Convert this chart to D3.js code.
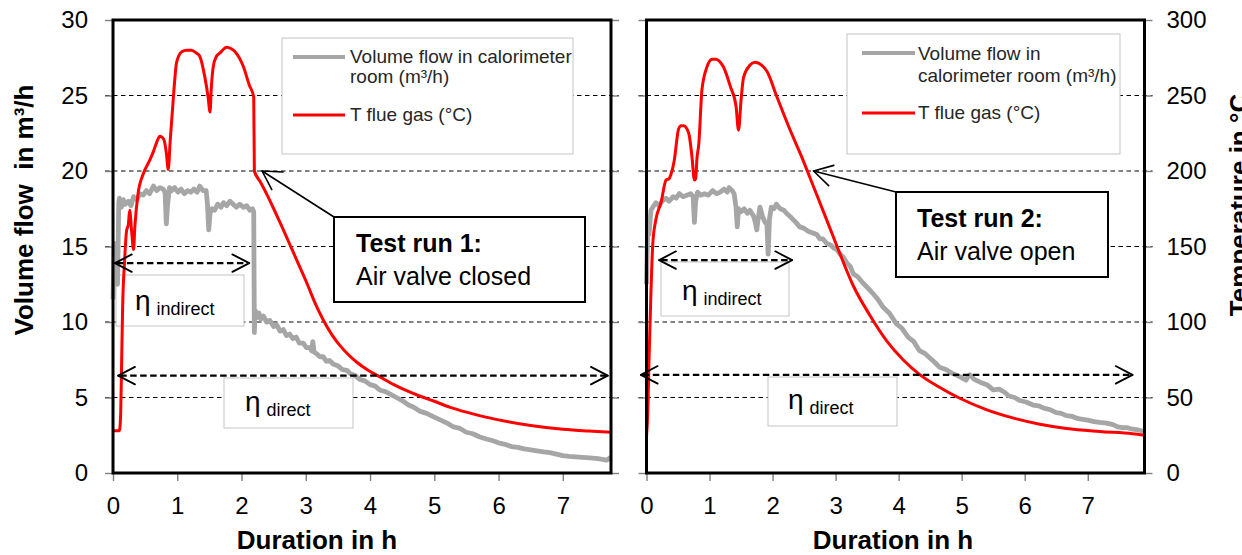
<!DOCTYPE html>
<html>
<head>
<meta charset="utf-8">
<script src="https://cdn.jsdelivr.net/npm/d3@7"></script>
<style>
  html, body { margin: 0; padding: 0; background: #fff; }
  svg { display: block; }
</style>
</head>
<body>
<svg id="chart" width="1242" height="555"></svg>
<script>
// ---- Test run 1 (air valve closed) ----
const run1FlowHours = [0, 0.02, 0.03, 0.05, 0.07, 0.09, 0.1, 0.13, 0.16, 0.19, 0.24, 0.28, 0.32, 0.37, 0.42, 0.47, 0.52, 0.57, 0.63, 0.68, 0.73, 0.78, 0.81, 0.83, 0.85, 0.88, 0.91, 0.96, 1.01, 1.06, 1.11, 1.16, 1.21, 1.26, 1.31, 1.35, 1.4, 1.45, 1.47, 1.49, 1.51, 1.54, 1.58, 1.63, 1.68, 1.72, 1.77, 1.82, 1.87, 1.92, 1.97, 2.03, 2.08, 2.13, 2.17, 2.19,
  2.2, 2.21, 2.24, 2.27, 2.3, 2.34, 2.39, 2.44, 2.5, 2.55, 2.6, 2.65, 2.7, 2.75, 2.8, 2.85, 2.9, 2.96, 3.01, 3.06, 3.09, 3.11, 3.13, 3.17, 3.22, 3.27, 3.32, 3.37, 3.43, 3.5, 3.57, 3.64, 3.7, 3.77, 3.84, 3.92, 4.0, 4.08, 4.15, 4.23, 4.3, 4.41, 4.5, 4.6, 4.68, 4.77, 4.88, 5.0, 5.1, 5.2, 5.3, 5.4, 5.5, 5.6, 5.7, 5.81, 5.9, 6.0, 6.1, 6.2, 6.3, 6.4, 6.55, 6.7, 6.8, 6.9, 7.0, 7.1, 7.25, 7.42, 7.55, 7.68, 7.75];
const run1Flow = [11.5, 15.2, 13.0, 14.5, 12.5, 17.9, 18.2, 17.6, 18.1, 17.8, 18.0, 17.7, 18.3, 18.1, 18.5, 18.4, 18.7, 18.5, 19.0, 18.7, 18.9, 18.8, 18.6, 16.5, 17.8, 18.9, 18.7, 18.9, 18.6, 18.8, 18.5, 18.7, 18.6, 18.8, 18.6, 19.0, 18.7, 18.7, 17.8, 16.1, 17.2, 17.5, 17.4, 17.8, 17.6, 17.9, 17.7, 18.0, 17.8, 17.6, 17.8, 17.6, 17.7, 17.4, 17.5, 17.3,
  9.3, 10.8, 10.3, 10.6, 10.2, 10.4, 10.0, 10.1, 9.7, 9.8, 9.4, 9.5, 9.1, 9.2, 8.9, 9.0, 8.6, 8.6, 8.3, 8.3, 8.1, 8.7, 8.0, 7.9, 7.7, 7.7, 7.4, 7.45, 7.2, 7.1, 6.85, 6.8, 6.55, 6.45, 6.2, 6.1, 5.85, 5.75, 5.5, 5.4, 5.25, 5.0, 4.8, 4.5, 4.35, 4.1, 3.95, 3.7, 3.5, 3.3, 3.05, 2.95, 2.7, 2.6, 2.4, 2.25, 2.15, 2.0, 1.9, 1.75, 1.7, 1.6, 1.5, 1.4, 1.35, 1.25, 1.15, 1.1, 1.05, 1.0, 0.95, 0.85, 1.05];
const run1TempHours = [0, 0.1, 0.12, 0.135, 0.15, 0.18, 0.21, 0.24, 0.26, 0.29, 0.32, 0.34, 0.39, 0.47, 0.57, 0.63, 0.68, 0.73, 0.79, 0.83, 0.86, 0.89, 0.94, 0.99, 1.07, 1.15, 1.22, 1.3, 1.35, 1.43, 1.48, 1.51, 1.53, 1.56, 1.61, 1.66, 1.77, 1.84, 1.9, 2.03, 2.12, 2.19,
  2.2, 2.29, 2.4, 2.49, 2.62, 2.75, 2.88, 3.01, 3.14, 3.27, 3.4, 3.53, 3.66, 3.79, 3.97, 4.16, 4.37, 4.57, 4.77, 5.0, 5.25, 5.5, 5.75, 6.0, 6.5, 7.0, 7.4, 7.75];
const run1Temp = [28, 28, 40, 75, 110, 140, 160, 165, 174, 160, 148, 163, 185, 198, 207, 213, 219, 223, 221, 212, 201, 220, 249, 272, 279, 280, 280, 278, 276, 262, 249, 239, 255, 269, 276, 278, 282, 281, 279, 269, 257, 249,
  200, 193, 184, 176, 164, 151.5, 139, 126.5, 113, 101.5, 92, 84.5, 78.5, 73.5, 68, 63.5, 58.5, 54.5, 51, 47.5, 43.5, 40.3, 37.5, 35.2, 31.5, 29, 27.8, 27];

// ---- Test run 2 (air valve open) ----
const run2FlowHours = [0, 0.01, 0.02, 0.04, 0.07, 0.1, 0.15, 0.2, 0.25, 0.31, 0.36, 0.42, 0.47, 0.52, 0.58, 0.64, 0.7, 0.74, 0.76, 0.78, 0.81, 0.86, 0.92, 0.98, 1.05, 1.11, 1.17, 1.23, 1.28, 1.31, 1.36, 1.39, 1.42, 1.44, 1.46, 1.5, 1.55, 1.6, 1.64, 1.7, 1.72, 1.75, 1.77, 1.8, 1.84, 1.88, 1.91, 1.93, 1.95, 1.98, 2.02, 2.06, 2.12, 2.18, 2.22, 2.3, 2.37, 2.43, 2.5, 2.57, 2.64, 2.7, 2.75, 2.8, 2.86, 2.92, 2.97, 3.02, 3.07, 3.12, 3.18, 3.23, 3.28, 3.35, 3.43, 3.5, 3.59, 3.67, 3.75, 3.85, 3.96, 4.05, 4.15, 4.24, 4.33, 4.42, 4.5, 4.58, 4.65, 4.75, 4.85, 4.96, 5.07, 5.1, 5.13, 5.2, 5.3, 5.4, 5.5, 5.6, 5.68, 5.75, 5.84, 5.92, 6.02, 6.13, 6.22, 6.3, 6.4, 6.5, 6.58, 6.66, 6.75, 6.85, 6.92, 7.0, 7.1, 7.19, 7.3, 7.4, 7.48, 7.55, 7.63, 7.71, 7.8, 7.9];
const run2Flow = [12.5, 14.5, 16.3, 15.8, 17.4, 17.6, 17.9, 17.7, 18.0, 18.2, 18.0, 18.3, 18.2, 18.5, 18.3, 18.4, 18.5, 18.3, 16.6, 18.0, 18.6, 18.4, 18.5, 18.4, 18.7, 18.5, 18.6, 18.8, 18.6, 18.9, 18.7, 18.5, 17.6, 16.3, 17.5, 17.3, 17.5, 17.2, 17.4, 17.0, 16.7, 16.1, 16.8, 17.6, 17.0, 16.6, 16.5, 14.5, 16.8, 17.6, 17.5, 17.8, 17.5, 17.4, 17.2, 16.9, 16.6, 16.3, 16.2, 16.0, 15.9, 15.8, 15.5, 15.5, 15.2, 15.1, 14.9, 14.8, 14.5, 14.3, 13.9, 13.7, 13.2, 13.0, 12.6, 12.3, 11.9, 11.5, 11.0, 10.6, 9.9, 9.6, 9.0, 8.7, 8.1, 7.9, 7.6, 7.3, 7.0, 6.85, 6.6, 6.4, 6.15, 6.4, 6.5, 6.2, 6.0, 5.85, 5.5, 5.55, 5.35, 5.1, 5.0, 4.8, 4.7, 4.5, 4.45, 4.3, 4.2, 4.0, 3.95, 3.8, 3.75, 3.6, 3.55, 3.5, 3.4, 3.35, 3.3, 3.2, 3.05, 3.0, 3.0, 2.9, 2.85, 2.75];
const run2TempHours = [0, 0.02, 0.04, 0.07, 0.1, 0.15, 0.23, 0.31, 0.36, 0.39, 0.44, 0.51, 0.55, 0.59, 0.67, 0.72, 0.76, 0.78, 0.8, 0.83, 0.88, 0.96, 1.04, 1.1, 1.15, 1.22, 1.33, 1.42, 1.46, 1.5, 1.54, 1.64, 1.72, 1.83, 1.91, 2.07, 2.28, 2.46, 2.65, 2.86, 3.07, 3.28, 3.55, 3.81, 4.07, 4.34, 4.66, 4.97, 5.39, 5.81, 6.24, 6.66, 7.19, 7.71, 7.9];
const run2Temp = [24, 40, 75, 119, 152, 168, 179, 194, 195, 198, 207, 228, 230, 230, 225, 210, 194, 195, 208, 218, 254, 269, 274, 274, 273, 269, 256, 243, 227, 247, 262, 270, 272, 270, 266, 249, 227, 209.5, 189.6, 167.5, 145, 124, 104, 87.5, 75, 65, 56.5, 49.5, 42, 36.5, 32.3, 29.5, 27.5, 26, 25];

// ---- axis ticks and labels ----
const flowTicks = [0, 5, 10, 15, 20, 25, 30];
const flowGrid = [5, 10, 15, 20, 25];
const tempTicks = [0, 50, 100, 150, 200, 250, 300];
const hourTicks = [0, 1, 2, 3, 4, 5, 6, 7];
const legendFlowLines = [["Volume flow in calorimeter", "room (m³/h)"], ["Volume flow in", "calorimeter room (m³/h)"]];
const legendTempLabel = "T flue gas (°C)";
const runTitles = ["Test run 1:", "Test run 2:"];
const runValves = ["Air valve closed", "Air valve open"];
const calloutTemp = 200;            // °C point on the flue gas curve the callouts point at
const calloutHours = [2.32, 2.65];
const indirectSpan = [[0.03, 2.12], [0.2, 2.31]];
const directSpan = [[0.08, 7.7], [-0.09, 7.71]];
const indirectLevel = [13.9, 14.1];  // m³/h scale height of the η indirect arrow
const directLevel = [6.45, 6.5];

const FONT = "'Liberation Sans', Arial, Helvetica, sans-serif";
const svg = d3.select("#chart");
svg.append("rect").attr("width", 1242).attr("height", 555).attr("fill", "#fff");

const yFlow = d3.scaleLinear().domain([0, 30]).range([473, 20]);
const yTemp = d3.scaleLinear().domain([0, 300]).range([473, 20]);

const panels = [
  {
    x: d3.scaleLinear().domain([0, 7.75]).range([113, 611]),
    flowH: run1FlowHours, flow: run1Flow, tempH: run1TempHours, temp: run1Temp,
    legend: { x: 282, y: 38, w: 291, h: 116, lx0: 293, lx1: 345, tx: 350, gy: 57, ry: 115, b1: 63, b2: 83, b3: 121 },
    box: { x: 334, y: 217, w: 251, h: 85, tx: 356, b1: 252, b2: 285 },
    etaInd: { x: 116, y: 275, w: 128, h: 51, tx: 135, b: 310 },
    etaDir: { x: 224, y: 378, w: 129, h: 50, tx: 245, b: 411 },
    leftLabels: true, rightLabels: false
  },
  {
    x: d3.scaleLinear().domain([0, 7.9]).range([646.5, 1144.5]),
    flowH: run2FlowHours, flow: run2Flow, tempH: run2TempHours, temp: run2Temp,
    legend: { x: 847, y: 34, w: 273, h: 120, lx0: 862, lx1: 915, tx: 918, gy: 53, ry: 113, b1: 60, b2: 82, b3: 119 },
    box: { x: 896, y: 192, w: 212, h: 85, tx: 917, b1: 227, b2: 260 },
    etaInd: { x: 661, y: 262, w: 128, h: 54, tx: 682, b: 300 },
    etaDir: { x: 768, y: 377, w: 129, h: 49, tx: 788, b: 409 },
    leftLabels: false, rightLabels: true
  }
];

function arrowHead(g, x, y, ang, len, spread, width) {
  [ang - spread, ang + spread].forEach(a => {
    g.append("line")
      .attr("x1", x).attr("y1", y)
      .attr("x2", x + len * Math.cos(a)).attr("y2", y + len * Math.sin(a))
      .attr("stroke", "#000").attr("stroke-width", width).attr("stroke-linecap", "round");
  });
}

function etaLabel(g, b, sub) {
  g.append("rect").attr("x", b.x).attr("y", b.y).attr("width", b.w).attr("height", b.h)
    .attr("fill", "#fff").attr("stroke", "#c4c4c4").attr("stroke-width", 1);
  const t = g.append("text").attr("x", b.tx).attr("y", b.b)
    .attr("font-family", FONT).attr("font-size", 28).attr("fill", "#000").text("η");
  t.append("tspan").attr("dx", 6).attr("dy", 5).attr("font-size", 18).text(sub);
}

panels.forEach((p, i) => {
  const g = svg.append("g");
  const [x0, x1] = p.x.range();

  // dashed horizontal grid
  g.selectAll("line.grid").data(flowGrid).join("line")
    .attr("class", "grid")
    .attr("x1", x0 - 8).attr("x2", x1 + 8)
    .attr("y1", d => yFlow(d)).attr("y2", d => yFlow(d))
    .attr("stroke", "#000").attr("stroke-width", 1).attr("stroke-dasharray", "4.5,3.5");

  // left axis (volume flow)
  g.append("g").attr("transform", `translate(${x0},0)`)
    .call(d3.axisLeft(yFlow).tickValues(flowTicks).tickSize(8).tickPadding(17)
      .tickFormat(p.leftLabels ? d3.format("d") : () => ""))
    .call(a => a.select(".domain").remove());

  // right axis (temperature)
  g.append("g").attr("transform", `translate(${x1},0)`)
    .call(d3.axisRight(yTemp).tickValues(tempTicks).tickSize(8).tickPadding(14)
      .tickFormat(p.rightLabels ? d3.format("d") : () => ""))
    .call(a => a.select(".domain").remove());

  // bottom axis (hours)
  g.append("g").attr("transform", "translate(0,473)")
    .call(d3.axisBottom(p.x).tickValues(hourTicks).tickSize(8).tickPadding(16).tickFormat(d3.format("d")))
    .call(a => a.select(".domain").remove());

  g.selectAll(".tick line").attr("stroke", "#7f7f7f").attr("stroke-width", 1.4);
  g.selectAll(".tick text").attr("font-family", FONT).attr("font-size", 24).attr("fill", "#000");

  // legend
  const L = p.legend;
  g.append("rect").attr("x", L.x).attr("y", L.y).attr("width", L.w).attr("height", L.h)
    .attr("fill", "#fff").attr("stroke", "#c4c4c4").attr("stroke-width", 1);
  g.append("line").attr("x1", L.lx0).attr("x2", L.lx1).attr("y1", L.gy).attr("y2", L.gy)
    .attr("stroke", "#a6a6a6").attr("stroke-width", 4);
  g.append("line").attr("x1", L.lx0).attr("x2", L.lx1).attr("y1", L.ry).attr("y2", L.ry)
    .attr("stroke", "#ff0000").attr("stroke-width", 3);
  const legTxt = [[legendFlowLines[i][0], L.b1], [legendFlowLines[i][1], L.b2], [legendTempLabel, L.b3]];
  legTxt.forEach(([s, b]) => {
    g.append("text").attr("x", L.tx).attr("y", b).attr("font-family", FONT)
      .attr("font-size", 19).attr("fill", "#262626").text(s);
  });

  // η boxes
  etaLabel(g, p.etaInd, "indirect");
  etaLabel(g, p.etaDir, "direct");

  // data lines
  const flowPts = p.flowH.map((h, k) => [h, p.flow[k]]);
  const tempPts = p.tempH.map((h, k) => [h, p.temp[k]]);
  g.append("path").datum(flowPts)
    .attr("d", d3.line().x(d => p.x(d[0])).y(d => yFlow(d[1])))
    .attr("fill", "none").attr("stroke", "#a6a6a6").attr("stroke-width", 4.8)
    .attr("stroke-linejoin", "round");
  g.append("path").datum(tempPts)
    .attr("d", d3.line().curve(d3.curveMonotoneX).x(d => p.x(d[0])).y(d => yTemp(d[1])))
    .attr("fill", "none").attr("stroke", "#ff0000").attr("stroke-width", 3)
    .attr("stroke-linejoin", "round");

  // double arrows for η indirect / η direct ranges
  [[indirectSpan[i], indirectLevel[i]], [directSpan[i], directLevel[i]]].forEach(([span, lvl]) => {
    const ya = yFlow(lvl), xa = p.x(span[0]), xb = p.x(span[1]);
    g.append("line").attr("x1", xa + 2).attr("x2", xb - 2).attr("y1", ya).attr("y2", ya)
      .attr("stroke", "#000").attr("stroke-width", 2.2).attr("stroke-dasharray", "6.5,3.5");
    arrowHead(g, xa, ya, 0, 19, 0.48, 1.8);
    arrowHead(g, xb, ya, Math.PI, 19, 0.48, 1.8);
  });

  // callout box
  const B = p.box;
  const tipX = p.x(calloutHours[i]), tipY = yTemp(calloutTemp);
  g.append("line").attr("x1", B.x).attr("y1", B.y).attr("x2", tipX).attr("y2", tipY)
    .attr("stroke", "#000").attr("stroke-width", 1.6);
  arrowHead(g, tipX, tipY, Math.atan2(B.y - tipY, B.x - tipX), 21, 0.52, 1.6);
  g.append("rect").attr("x", B.x).attr("y", B.y).attr("width", B.w).attr("height", B.h)
    .attr("fill", "#fff").attr("stroke", "#000").attr("stroke-width", 2);
  g.append("text").attr("x", B.tx).attr("y", B.b1).attr("font-family", FONT)
    .attr("font-size", 25).attr("font-weight", "bold").attr("fill", "#000").text(runTitles[i]);
  g.append("text").attr("x", B.tx).attr("y", B.b2).attr("font-family", FONT)
    .attr("font-size", 25).attr("fill", "#000").text(runValves[i]);

  // plot frame
  g.append("rect").attr("x", x0).attr("y", 20).attr("width", x1 - x0).attr("height", 453)
    .attr("fill", "none").attr("stroke", "#000").attr("stroke-width", 3);

  // x title
  g.append("text").attr("x", i === 0 ? 317 : 893).attr("y", 549)
    .attr("text-anchor", "middle").attr("font-family", FONT).attr("font-size", 26)
    .attr("font-weight", "bold").attr("fill", "#000").text("Duration in h");
});

// y titles
svg.append("text").attr("transform", "translate(33,210) rotate(-90)")
  .attr("text-anchor", "middle").attr("font-family", FONT).attr("font-size", 26)
  .attr("font-weight", "bold").attr("fill", "#000").style("white-space", "pre")
  .text("Volume flow  in m³/h");
svg.append("text").attr("transform", "translate(1248,205) rotate(-90)")
  .attr("text-anchor", "middle").attr("font-family", FONT).attr("font-size", 26)
  .attr("font-weight", "bold").attr("fill", "#000")
  .text("Temperature in °C");
</script>
</body>
</html>
